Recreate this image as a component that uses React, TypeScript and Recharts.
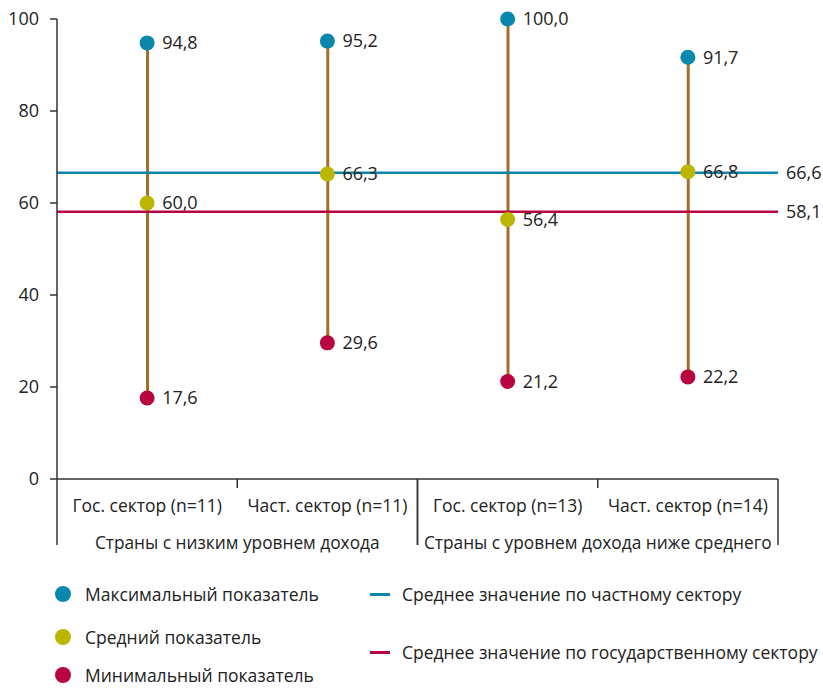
import {
  ComposedChart,
  Bar,
  Line,
  XAxis,
  YAxis,
  ReferenceLine,
  LabelList,
} from "recharts";

const CATEGORIES = [
  "Гос. сектор (n=11)",
  "Част. сектор (n=11)",
  "Гос. сектор (n=13)",
  "Част. сектор (n=14)",
];
const GROUPS = [
  "Страны с низким уровнем дохода",
  "Страны с низким уровнем дохода",
  "Страны с уровнем дохода ниже среднего",
  "Страны с уровнем дохода ниже среднего",
];
const MAX_VALUES = [94.8, 95.2, 100.0, 91.7];
const MEAN_VALUES = [60.0, 66.3, 56.4, 66.8];
const MIN_VALUES = [17.6, 29.6, 21.2, 22.2];
const PRIVATE_AVG = 66.6;
const STATE_AVG = 58.1;
const Y_TICKS = [0, 20, 40, 60, 80, 100];

const BLUE = "#0a87ad";
const LIME = "#bcb600";
const RED = "#b8053f";
const BROWN = "#a56d28";
const AXIS = "#333";
const TEXT = "#222";
const FONT = "'Open Sans', sans-serif";

const W = 823;
const H = 688;
const X_AXIS_H = 30;
const M = { top: 19, right: 45, left: 0, bottom: 209 - X_AXIS_H };
const Y_AXIS_W = 57;
const PLOT_W = W - M.left - M.right - Y_AXIS_W;

const data = CATEGORIES.map((name, i) => ({
  name,
  max: MAX_VALUES[i],
  mean: MEAN_VALUES[i],
  min: MIN_VALUES[i],
  range: [MIN_VALUES[i], MAX_VALUES[i]],
}));

const LEGEND_DOTS = [
  { label: "Максимальный показатель", color: BLUE, top: 594 },
  { label: "Средний показатель", color: LIME, top: 637 },
  { label: "Минимальный показатель", color: RED, top: 675 },
];
const LEGEND_LINES = [
  { label: "Среднее значение по частному сектору", color: BLUE, top: 594 },
  { label: "Среднее значение по государственному сектору", color: RED, top: 652 },
];

const fmt = (v: number) => v.toFixed(1).replace(".", ",");

function CategoryTick(props: any) {
  const { x, y, payload } = props;
  const i = payload.index;
  const bw = PLOT_W / CATEGORIES.length;
  const first = i === 0 || GROUPS[i - 1] !== GROUPS[i];
  const last = i === CATEGORIES.length - 1 || GROUPS[i + 1] !== GROUPS[i];
  return (
    <g>
      <text x={x} y={y + 33} textAnchor="middle" fontSize={17.5} fill={TEXT} fontFamily={FONT}>
        {payload.value}
      </text>
      {first && (
        <line x1={x - bw / 2} x2={x - bw / 2} y1={y} y2={y + 66} stroke={AXIS} strokeWidth={1.5} />
      )}
      {last && (
        <line x1={x + bw / 2} x2={x + bw / 2} y1={y} y2={y + 66} stroke={AXIS} strokeWidth={1.5} />
      )}
      {first && !last && (
        <>
          <line x1={x + bw / 2} x2={x + bw / 2} y1={y} y2={y + 9} stroke={AXIS} strokeWidth={1.5} />
          <text x={x + bw / 2} y={y + 70} textAnchor="middle" fontSize={17.3} fill={TEXT} fontFamily={FONT}>
            {GROUPS[i]}
          </text>
        </>
      )}
    </g>
  );
}

export default function App() {
  return (
    <div style={{ position: "absolute", left: 0, top: 0, width: W, height: H, background: "#fff", fontFamily: FONT }}>
      <ComposedChart width={W} height={H} data={data} margin={M}>
        <XAxis
          dataKey="name"
          height={X_AXIS_H}
          tick={<CategoryTick />}
          tickLine={false}
          tickSize={0}
          tickMargin={0}
          axisLine={{ stroke: AXIS, strokeWidth: 1.5 }}
          interval={0}
        />
        <YAxis
          domain={[0, 100]}
          ticks={Y_TICKS}
          width={Y_AXIS_W}
          tickSize={7}
          tickMargin={11}
          axisLine={{ stroke: AXIS, strokeWidth: 1.5 }}
          tickLine={{ stroke: AXIS, strokeWidth: 1.5 }}
          tick={{ fontSize: 18, fill: TEXT, fontFamily: FONT }}
        />
        <ReferenceLine
          y={PRIVATE_AVG}
          stroke={BLUE}
          strokeWidth={2.5}
          label={{ value: fmt(PRIVATE_AVG), position: "right", offset: 8, fontSize: 18, fill: TEXT, fontFamily: FONT }}
        />
        <ReferenceLine
          y={STATE_AVG}
          stroke={RED}
          strokeWidth={2.5}
          label={{ value: fmt(STATE_AVG), position: "right", offset: 8, fontSize: 18, fill: TEXT, fontFamily: FONT }}
        />
        <Bar dataKey="range" barSize={3} fill={BROWN} isAnimationActive={false} />
        {[
          { key: "max", color: BLUE },
          { key: "mean", color: LIME },
          { key: "min", color: RED },
        ].map((s) => (
          <Line
            key={s.key}
            dataKey={s.key}
            stroke="none"
            dot={{ r: 7.5, fill: s.color, stroke: "none" }}
            activeDot={false}
            isAnimationActive={false}
          >
            <LabelList
              dataKey={s.key}
              position="right"
              offset={15}
              formatter={(v: any) => fmt(Number(v))}
              style={{ fontSize: 18, fill: TEXT, fontFamily: FONT }}
            />
          </Line>
        ))}
      </ComposedChart>
      {LEGEND_DOTS.map((d) => (
        <div key={d.label} style={{ position: "absolute", left: 55, top: d.top - 13, height: 26, display: "flex", alignItems: "center", fontSize: 17.5, color: TEXT, whiteSpace: "nowrap" }}>
          <span style={{ width: 16, height: 16, borderRadius: "50%", background: d.color, display: "inline-block", marginRight: 14 }} />
          {d.label}
        </div>
      ))}
      {LEGEND_LINES.map((d) => (
        <div key={d.label} style={{ position: "absolute", left: 370, top: d.top - 13, height: 26, display: "flex", alignItems: "center", fontSize: 17.5, color: TEXT, whiteSpace: "nowrap" }}>
          <span style={{ width: 20, height: 3, background: d.color, display: "inline-block", marginRight: 12 }} />
          {d.label}
        </div>
      ))}
    </div>
  );
}
